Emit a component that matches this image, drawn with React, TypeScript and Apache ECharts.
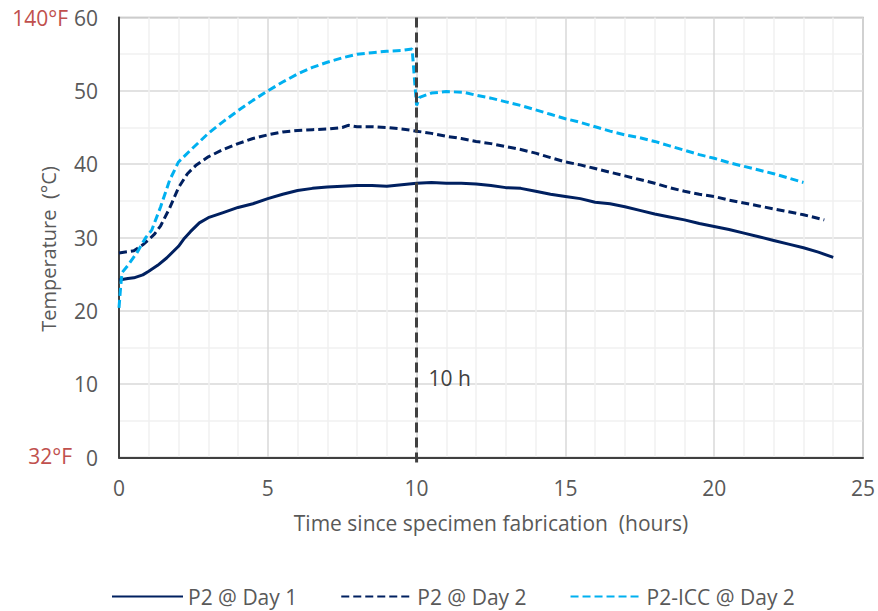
import React, { useEffect, useRef } from "react";
import * as echarts from "echarts";

// ---- data (hours since fabrication, temperature °C) ----
const day1Hours = [0, 0.3, 0.5, 0.8, 1.0, 1.3, 1.6, 2.0, 2.2, 2.4, 2.7, 3.0, 3.5, 4.0, 4.5, 5.0, 5.5, 6.0, 6.5, 7.0, 7.5, 8.0, 8.5, 9.0, 9.5, 10.0, 10.5, 11.0, 11.5, 12.0, 12.5, 13.0, 13.5, 14.0, 14.5, 15.0, 15.5, 16.0, 16.5, 17.0, 17.5, 18.0, 18.5, 19.0, 19.5, 20.0, 20.5, 21.0, 21.5, 22.0, 22.5, 23.0, 23.5, 24.0];
const day1Temps = [24.2, 24.4, 24.5, 24.9, 25.4, 26.2, 27.2, 28.8, 29.9, 30.8, 32.0, 32.7, 33.4, 34.1, 34.6, 35.3, 35.9, 36.4, 36.7, 36.9, 37.0, 37.1, 37.1, 37.0, 37.2, 37.4, 37.5, 37.4, 37.4, 37.3, 37.1, 36.8, 36.7, 36.3, 35.9, 35.6, 35.3, 34.8, 34.6, 34.2, 33.7, 33.2, 32.8, 32.4, 31.9, 31.5, 31.1, 30.6, 30.1, 29.6, 29.1, 28.6, 28.0, 27.3];

const day2Hours = [0, 0.5, 0.8, 1.0, 1.2, 1.4, 1.7, 2.0, 2.3, 2.6, 3.0, 3.5, 4.0, 4.5, 5.0, 5.5, 6.0, 6.5, 7.0, 7.5, 7.7, 8.0, 8.5, 9.0, 9.5, 10.0, 10.5, 11.0, 11.5, 12.0, 12.5, 13.0, 13.5, 14.0, 14.5, 15.0, 15.5, 16.0, 16.5, 17.0, 17.5, 18.0, 18.5, 19.0, 19.5, 20.0, 20.5, 21.0, 21.5, 22.0, 22.5, 23.0, 23.7];
const day2Temps = [27.9, 28.2, 29.0, 29.7, 30.5, 31.6, 34.0, 36.8, 38.7, 39.9, 41.0, 42.0, 42.8, 43.5, 44.0, 44.4, 44.6, 44.7, 44.8, 45.0, 45.3, 45.1, 45.1, 45.0, 44.8, 44.5, 44.2, 43.8, 43.5, 43.1, 42.8, 42.4, 42.0, 41.5, 40.9, 40.3, 39.9, 39.4, 38.9, 38.4, 37.9, 37.4, 36.8, 36.3, 35.9, 35.6, 35.1, 34.7, 34.3, 33.9, 33.5, 33.1, 32.4];

const iccHours = [0, 0.05, 0.1, 0.3, 0.6, 0.9, 1.1, 1.4, 1.7, 2.0, 2.4, 3.0, 3.5, 4.0, 4.5, 5.0, 5.5, 6.0, 6.5, 7.0, 7.5, 8.0, 8.5, 9.0, 9.5, 9.85, 9.95, 10.0, 10.1, 10.5, 11.0, 11.6, 12.0, 12.5, 13.0, 13.5, 14.0, 14.5, 15.0, 15.5, 16.0, 16.5, 17.0, 17.5, 18.0, 18.5, 19.0, 19.5, 20.0, 20.5, 21.0, 21.5, 22.0, 22.5, 23.0];
const iccTemps = [20.4, 23.0, 25.2, 26.2, 27.9, 30.0, 31.0, 34.2, 37.8, 40.3, 41.9, 44.2, 45.8, 47.3, 48.7, 50.0, 51.2, 52.3, 53.2, 53.9, 54.5, 55.0, 55.2, 55.4, 55.5, 55.7, 50.5, 48.0, 49.1, 49.7, 49.9, 49.8, 49.4, 49.0, 48.5, 48.0, 47.4, 46.8, 46.2, 45.7, 45.1, 44.5, 44.0, 43.6, 43.1, 42.5, 41.9, 41.3, 40.8, 40.2, 39.7, 39.2, 38.7, 38.1, 37.5];

const seriesNames = ["P2 @ Day 1", "P2 @ Day 2", "P2-ICC @ Day 2"];
const markerHour = 10;
const markerText = "10 h";
const fahrenheitTop = "140°F";
const fahrenheitBottom = "32°F";

const zip = (xs: number[], ys: number[]) => xs.map((x, i) => [x, ys[i]]);

const FONT = "'Open Sans', 'Noto Sans', sans-serif";
const TEXT = "#595959";
const NAVY = "#002060";
const SKY = "#00b0f0";
const MARK = "#404040";

export default function App() {
  const ref = useRef<HTMLDivElement>(null);
  useEffect(() => {
    if (!ref.current) return;
    const chart = echarts.init(ref.current, undefined, { renderer: "svg" });
    const baseGraphics: any[] = [
      {
        type: "text",
        x: 48,
        y: 249,
        rotation: Math.PI / 2,
        style: {
          text: "Temperature  (°C)",
          fill: TEXT,
          font: `20px ${FONT}`,
          align: "center",
          verticalAlign: "middle",
        },
      },
      {
        type: "text",
        x: 68,
        y: 18,
        style: {
          text: fahrenheitTop,
          fill: "#c0504d",
          font: `21px ${FONT}`,
          align: "right",
          verticalAlign: "middle",
        },
      },
      {
        type: "text",
        x: 72,
        y: 456,
        style: {
          text: fahrenheitBottom,
          fill: "#c0504d",
          font: `21px ${FONT}`,
          align: "right",
          verticalAlign: "middle",
        },
      },
    ];
    chart.setOption({
      animation: false,
      backgroundColor: "#ffffff",
      textStyle: { fontFamily: FONT },
      grid: {
        left: 119,
        right: 15,
        top: 17.5,
        bottom: 153.5,
        show: true,
        borderColor: "#a6a6a6",
        borderWidth: 1.5,
      },
      legend: {
        left: 111,
        top: 586,
        padding: 0,
        itemWidth: 71,
        itemHeight: 14,
        itemGap: 43,
        itemStyle: { opacity: 0 },
        textStyle: { color: TEXT, fontSize: 21, fontFamily: FONT },
        data: seriesNames,
      },
      xAxis: {
        type: "value",
        min: 0,
        max: 25,
        interval: 5,
        name: "Time since specimen fabrication  (hours)",
        nameLocation: "middle",
        nameGap: 55,
        nameTextStyle: { color: TEXT, fontSize: 21, fontFamily: FONT },
        axisLine: { show: true, lineStyle: { color: MARK, width: 2 } },
        axisTick: { show: false },
        axisLabel: { color: TEXT, fontSize: 21, margin: 20, fontFamily: FONT },
        splitLine: { show: true, lineStyle: { color: "#d9d9d9", width: 1.5 } },
        minorTick: { show: false, splitNumber: 5 },
        minorSplitLine: { show: true, lineStyle: { color: "#f0f0f0", width: 1.5 } },
      },
      yAxis: {
        type: "value",
        min: 0,
        max: 60,
        interval: 10,
        axisLine: { show: true, lineStyle: { color: MARK, width: 2 } },
        axisTick: { show: false },
        axisLabel: { color: TEXT, fontSize: 21, margin: 21, fontFamily: FONT },
        splitLine: { show: true, lineStyle: { color: "#d9d9d9", width: 1.5 } },
        minorTick: { show: false, splitNumber: 2 },
        minorSplitLine: { show: true, lineStyle: { color: "#f0f0f0", width: 1.5 } },
      },
      graphic: baseGraphics,
      series: [
        {
          name: seriesNames[0],
          type: "line",
          data: zip(day1Hours, day1Temps),
          symbol: "none",
          z: 3,
          lineStyle: { color: NAVY, width: 3 },
          itemStyle: { color: NAVY },
          markLine: {
            silent: true,
            symbol: ["none", "none"],
            label: { show: false },
            z: 4,
            lineStyle: { color: MARK, width: 3, type: [10, 5] },
            data: [[{ coord: [markerHour, 60] }, { coord: [markerHour, 0] }]],
          },
          markPoint: {
            silent: true,
            symbol: "circle",
            symbolSize: 0,
            data: [{ coord: [markerHour, 10.9] }],
            label: {
              show: true,
              position: "right",
              distance: 12,
              formatter: markerText,
              color: MARK,
              fontSize: 21,
              fontFamily: FONT,
            },
          },
        },
        {
          name: seriesNames[1],
          type: "line",
          data: zip(day2Hours, day2Temps),
          symbol: "none",
          z: 3,
          lineStyle: { color: NAVY, width: 3, type: [8, 4] },
          itemStyle: { color: NAVY },
        },
        {
          name: seriesNames[2],
          type: "line",
          data: zip(iccHours, iccTemps),
          symbol: "none",
          z: 3,
          lineStyle: { color: SKY, width: 3, type: [8, 4] },
          itemStyle: { color: SKY },
        },
      ],
    });
    // short extension of the 10 h marker below the x axis
    const p = chart.convertToPixel({ gridIndex: 0 }, [markerHour, 0]) as number[];
    if (p && isFinite(p[0])) {
      chart.setOption({
        graphic: [
          ...baseGraphics,
          {
            type: "line",
            shape: { x1: p[0], y1: p[1], x2: p[0], y2: p[1] + 5 },
            style: { stroke: MARK, lineWidth: 3 },
          },
        ],
      });
    }
    return () => chart.dispose();
  }, []);
  return (
    <div
      ref={ref}
      style={{ position: "fixed", left: 0, top: 0, width: 878, height: 611, background: "#fff" }}
    />
  );
}
